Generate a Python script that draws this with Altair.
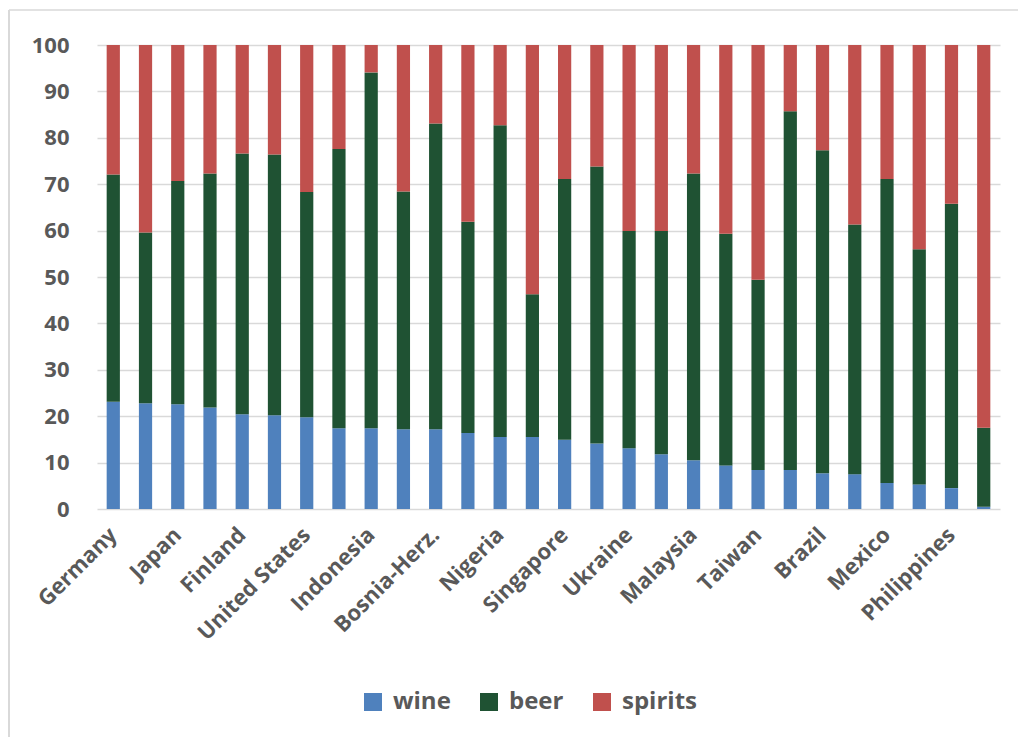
import altair as alt
import pandas as pd

countries = ["Germany", "Poland", "Japan", "Canada", "Finland", "Ireland", "United States",
             "Vietnam", "Indonesia", "Lithuania", "Bosnia-Herz.", "South Korea", "Nigeria",
             "Kazakhstan", "Singapore", "Thailand", "Ukraine", "China", "Malaysia", "Colombia",
             "Taiwan", "Cuba", "Brazil", "Peru", "Mexico", "Venezuela", "Philippines", "India"]
shown = ["Germany", "Japan", "Finland", "United States", "Indonesia", "Bosnia-Herz.", "Nigeria",
         "Singapore", "Ukraine", "Malaysia", "Taiwan", "Brazil", "Mexico", "Philippines"]

wine = [23.1, 22.8, 22.6, 21.9, 20.4, 20.2, 19.8, 17.4, 17.4, 17.2, 17.2, 16.4, 15.5, 15.5,
        14.9, 14.1, 13.1, 11.8, 10.5, 9.4, 8.4, 8.4, 7.7, 7.5, 5.6, 5.3, 4.5, 0.5]
beer = [49.0, 36.8, 48.1, 50.4, 56.2, 56.2, 48.5, 60.2, 76.7, 51.2, 65.9, 45.5, 67.2, 30.8,
        56.2, 59.7, 46.8, 48.1, 61.8, 49.9, 41.0, 77.3, 69.6, 53.8, 65.5, 50.7, 61.3, 17.0]
spirits = [27.9, 40.4, 29.3, 27.7, 23.4, 23.6, 31.7, 22.4, 5.9, 31.6, 16.9, 38.1, 17.3, 53.7,
           28.9, 26.2, 40.1, 40.1, 27.7, 40.7, 50.6, 14.3, 22.7, 38.7, 28.9, 44.0, 34.2, 82.5]

series = ["wine", "beer", "spirits"]
colors = ["#4f81bd", "#1f5233", "#c0504d"]

rows = []
for i, c in enumerate(countries):
    for k, (s, vals) in enumerate(zip(series, [wine, beer, spirits])):
        rows.append({"country": c, "type": s, "value": vals[i], "order": k})
df = pd.DataFrame(rows)

FONT = "Open Sans"
GRAY = "#595959"

bars = alt.Chart(df).mark_bar().encode(
    x=alt.X("country:N", sort=countries, title=None,
            scale=alt.Scale(paddingInner=0.59, paddingOuter=0.3),
            axis=alt.Axis(values=shown, labelAngle=-45, labelAlign="right",
                          labelBaseline="middle", labelPadding=22, ticks=False,
                          domain=False, labelFont=FONT, labelFontSize=22,
                          labelFontWeight="bold", labelColor=GRAY)),
    y=alt.Y("value:Q", stack="zero", title=None,
            scale=alt.Scale(domain=[0, 100], nice=False),
            axis=alt.Axis(values=list(range(0, 101, 10)), ticks=False, domain=False,
                          gridColor="#d9d9d9", gridWidth=1.3, labelPadding=28,
                          labelFont=FONT, labelFontSize=22, labelFontWeight="bold",
                          labelColor=GRAY)),
    color=alt.Color("type:N", sort=series,
                    scale=alt.Scale(domain=series, range=colors),
                    legend=alt.Legend(title=None, orient="none", direction="horizontal",
                                      legendX=264, legendY=645, symbolType="square",
                                      symbolSize=324, symbolStrokeWidth=0,
                                      labelFont=FONT, labelFontSize=24,
                                      labelFontWeight="bold", labelColor=GRAY,
                                      labelOffset=8, columnPadding=26, padding=0)),
    order=alt.Order("order:Q"),
)

# light chart-area border along the left and top edges (decoration)
deco = pd.DataFrame({"k": [0]})
left_edge = alt.Chart(deco).mark_rule(color="#d9d9d9", strokeWidth=2).encode(
    x=alt.value(-88), y=alt.value(-35), y2=alt.value(692)
)
top_edge = alt.Chart(deco).mark_rule(color="#d9d9d9", strokeWidth=1.5).encode(
    x=alt.value(-88), x2=alt.value(921), y=alt.value(-35)
)

chart = alt.layer(left_edge, top_edge, bars).properties(
    width=903, height=464,
    autosize=alt.AutoSizeParams(type="none"),
    padding={"left": 89, "top": 37, "right": 18, "bottom": 228},
).configure_view(stroke=None)

chart.save("out.html", embed_options={"renderer": "svg", "actions": False})
